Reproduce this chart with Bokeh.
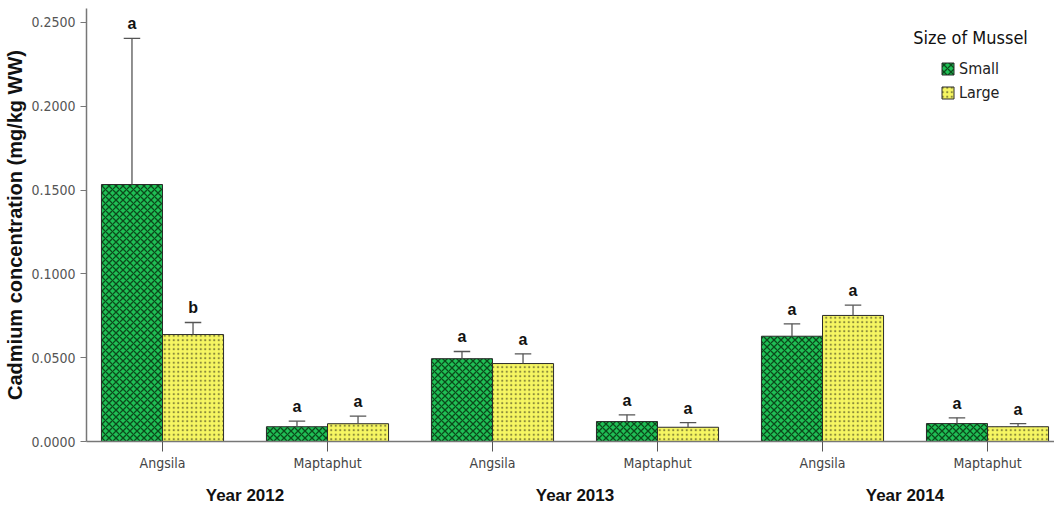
from bokeh.plotting import figure
from bokeh.models import (ColumnDataSource, Range1d, FixedTicker, NumeralTickFormatter,
                          Legend, LegendItem, Label, LinearAxis)
from bokeh.core.properties import value
from bokeh.embed import file_html
from bokeh.resources import INLINE

# Cadmium in mussels, mean and standard error by site, year and size class
sites = ["Angsila", "Maptaphut", "Angsila", "Maptaphut", "Angsila", "Maptaphut"]
years = ["Year 2012", "Year 2013", "Year 2014"]
small_mean = [0.1533, 0.0088, 0.0494, 0.0119, 0.0628, 0.0107]
small_se = [0.0872, 0.0033, 0.0043, 0.0040, 0.0074, 0.0034]
large_mean = [0.0638, 0.0106, 0.0465, 0.0085, 0.0752, 0.0088]
large_se = [0.0072, 0.0045, 0.0058, 0.0028, 0.0061, 0.0019]
small_letters = ["a", "a", "a", "a", "a", "a"]
large_letters = ["b", "a", "a", "a", "a", "a"]
y_ticks = [0.0, 0.05, 0.10, 0.15, 0.20, 0.25]

BAR_W = 0.37
CAP_W = 0.1
FONT = "Liberation Sans"
NARROW = "DejaVu Sans Condensed"

xs = list(range(len(sites)))
year_pos = [2 * k + 0.5 for k in range(len(years))]


def group_source(means, ses, letters, shift):
    x = [i + shift for i in xs]
    tops = [m + s for m, s in zip(means, ses)]
    return ColumnDataSource(dict(
        x=x, mean=means, top=tops, letter=letters,
        cap_l=[v - CAP_W / 2 for v in x], cap_r=[v + CAP_W / 2 for v in x],
    ))


src_small = group_source(small_mean, small_se, small_letters, -BAR_W / 2)
src_large = group_source(large_mean, large_se, large_letters, BAR_W / 2)

p = figure(width=1054, height=510, output_backend="svg", toolbar_location=None,
           x_range=Range1d(-0.4606, 5.406), y_range=Range1d(0, 0.2583),
           min_border_left=86, min_border_right=0, min_border_top=8,
           min_border_bottom=69)
p.outline_line_color = None
p.grid.visible = False
p.background_fill_color = "white"

bar_small = p.vbar(x="x", top="mean", width=BAR_W, source=src_small,
                   fill_color="#1fbf55", line_color="#2a2a2a", line_width=1,
                   hatch_pattern="diagonal_cross", hatch_color="#0b4a1b",
                   hatch_scale=7, hatch_weight=1.3)
bar_large = p.vbar(x="x", top="mean", width=BAR_W, source=src_large,
                   fill_color="#f6f662", line_color="#2a2a2a", line_width=1,
                   hatch_pattern="dot", hatch_color="#8a8a3a",
                   hatch_scale=4.5, hatch_weight=1.2)

for src in (src_small, src_large):
    p.segment(x0="x", y0="mean", x1="x", y1="top", source=src,
              line_color="#555555", line_width=1.3)
    p.segment(x0="cap_l", y0="top", x1="cap_r", y1="top", source=src,
              line_color="#555555", line_width=1.3)
    p.text(x="x", y="top", text="letter", source=src, text_align="center",
           text_baseline="bottom", y_offset=-6, text_font=value(FONT),
           text_font_style="bold", text_font_size="16px", text_color="#111111")

# y axis
p.yaxis.ticker = FixedTicker(ticks=y_ticks)
p.yaxis.formatter = NumeralTickFormatter(format="0.0000")
p.yaxis.minor_tick_line_color = None
p.yaxis.major_tick_out = 6
p.yaxis.major_tick_in = 0
p.yaxis.axis_line_color = "#777777"
p.yaxis.axis_line_width = 1.5
p.yaxis.major_tick_line_color = "#777777"
p.yaxis.major_label_text_font = NARROW
p.yaxis.major_label_text_font_size = "14px"
p.yaxis.major_label_text_color = "#555555"
p.yaxis.axis_label = "Cadmium concentration (mg/kg WW)"
p.yaxis.axis_label_text_font = FONT
p.yaxis.axis_label_text_font_style = "bold"
p.yaxis.axis_label_text_font_size = "20px"
p.yaxis.axis_label_text_color = "#111111"
p.yaxis.axis_label_standoff = 2

# site axis
p.xaxis.ticker = FixedTicker(ticks=xs)
p.xaxis.major_label_overrides = {i: s for i, s in enumerate(sites)}
p.xaxis.minor_tick_line_color = None
p.xaxis.major_tick_out = 10
p.xaxis.major_tick_in = 0
p.xaxis.axis_line_color = "#777777"
p.xaxis.axis_line_width = 1.5
p.xaxis.major_tick_line_color = "#555555"
p.xaxis.major_label_text_font = NARROW
p.xaxis.major_label_text_font_size = "14px"
p.xaxis.major_label_text_color = "#444444"
p.xaxis.major_label_standoff = 3

# year axis beneath the sites
year_axis = LinearAxis(ticker=FixedTicker(ticks=year_pos),
                       major_label_overrides={x: y for x, y in zip(year_pos, years)},
                       axis_line_color=None, major_tick_line_color=None,
                       minor_tick_line_color=None, major_tick_out=0,
                       major_tick_in=0, major_label_standoff=12,
                       major_label_text_font=FONT,
                       major_label_text_font_style="bold",
                       major_label_text_font_size="17px",
                       major_label_text_color="#111111")
p.add_layout(year_axis, "below")

# legend
p.add_layout(Label(x=970 - 86, y=441 - 37, x_units="screen", y_units="screen",
                   text="Size of Mussel", text_align="center",
                   text_baseline="middle", text_font=NARROW,
                   text_font_size="18px", text_color="#111111"))
legend = Legend(items=[LegendItem(label="Small", renderers=[bar_small]),
                       LegendItem(label="Large", renderers=[bar_large])],
                location=(854, 339), orientation="vertical",
                glyph_width=15, glyph_height=15, spacing=5, padding=0,
                margin=0, label_standoff=4, border_line_alpha=0,
                background_fill_alpha=0, label_text_font=NARROW,
                label_text_font_size="16px", label_text_color="#222222",
                label_height=15)
p.add_layout(legend)

open("out.html", "w").write(file_html(p, INLINE))
